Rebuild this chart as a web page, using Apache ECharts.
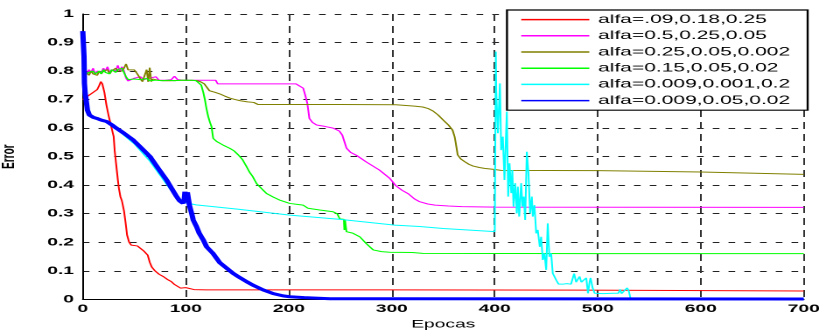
<!DOCTYPE html>
<html>
<head>
<meta charset="utf-8">
<script src="https://cdn.jsdelivr.net/npm/echarts@6/dist/echarts.min.js"></script>
<style>
  html, body { margin: 0; padding: 0; background: #fff; }
  #wrap { width: 819px; height: 331px; overflow: hidden; background: #fff; }
  /* the source figure is a MATLAB plot stretched sideways; draw narrow, then widen */
  #chart { width: 468px; height: 331px; transform: scaleX(1.75); transform-origin: 0 0; }
</style>
</head>
<body>
<div id="wrap"><div id="chart"></div></div>
<script>
// epochs 0..700, error 0..1
const LEGEND = [
  'alfa=.09,0.18,0.25',
  'alfa=0.5,0.25,0.05',
  'alfa=0.25,0.05,0.002',
  'alfa=0.15,0.05,0.02',
  'alfa=0.009,0.001,0.2',
  'alfa=0.009,0.05,0.02',
];
const COLORS = ['#ff0000', '#ff00ff', '#808000', '#00ff00', '#00ffff', '#0000ff'];

// noisy start shared by three runs
const EPOCH_A = [0, 2, 4, 6, 8, 10, 12, 14, 16, 18, 20, 22, 24, 26, 28, 30, 32, 34, 36, 38, 40, 42];
const EPOCH_B = [44, 47, 50, 53, 56, 59, 62, 65, 68, 71, 74, 77, 80, 83, 86, 89, 92, 95, 98];

const RED = [[0,0.70],[3,0.705],[6,0.715],[10,0.725],[14,0.735],[16,0.75],[17.5,0.763],[19,0.755],[21,0.725],
  [23,0.68],[25,0.645],[27,0.615],[28,0.6],[29,0.585],[30,0.57],[31,0.52],[32.5,0.47],[34,0.42],[35,0.39],
  [36.5,0.36],[38,0.345],[40,0.31],[41.5,0.27],[43,0.225],[45,0.2],[47,0.19],[50,0.188],[53,0.187],[56,0.18],
  [59,0.17],[61,0.163],[63,0.155],[65,0.13],[67,0.113],[70,0.1],[74,0.088],[78,0.08],[82,0.07],[86,0.062],
  [89,0.052],[92,0.045],[95,0.039],[98,0.038],[100,0.041],[101,0.039],[103,0.036],[108,0.034],[120,0.033],
  [300,0.033],[489,0.032],[492,0.029],[700,0.029]];

const MAG_A = [0.785,0.80,0.79,0.805,0.795,0.81,0.79,0.80,0.805,0.795,0.81,0.80,0.815,0.795,0.805,0.81,0.80,0.82,0.80,0.815,0.80,0.775];
const MAG_B = [0.765,0.77,0.775,0.768,0.78,0.77,0.768,0.775,0.77,0.78,0.768,0.772,0.768,0.775,0.77,0.782,0.77,0.768,0.768];
const MAG_TAIL = [[100,0.768],[129,0.768],[131,0.755],[207,0.755],[210,0.752],[214,0.74],[216,0.715],[218,0.687],
  [220,0.634],[223,0.62],[227,0.611],[235,0.606],[243,0.6],[249,0.59],[252,0.575],[256,0.53],[260,0.515],
  [266,0.504],[275,0.482],[288,0.453],[298,0.424],[304,0.398],[310,0.382],[316,0.37],[322,0.352],[327,0.342],
  [335,0.334],[342,0.33],[355,0.327],[368,0.325],[400,0.323],[700,0.322]];

const OLIVE_A = [0.79,0.78,0.795,0.785,0.80,0.79,0.795,0.785,0.80,0.79,0.80,0.795,0.805,0.79,0.80,0.795,0.81,0.80,0.805,0.80,0.81,0.825];
const OLIVE_TAIL = [[44,0.804],[47,0.798],[50,0.804],[53,0.79],[56,0.772],[58,0.763],[60,0.765],[62,0.805],
  [63.5,0.762],[65,0.812],[66.5,0.763],[68,0.772],[70,0.778],[73,0.768],[76,0.772],[79,0.766],[82,0.772],
  [85,0.766],[88,0.77],[91,0.767],[94,0.77],[97,0.768],[100,0.768],[110,0.767],[114,0.763],[118,0.755],
  [120,0.751],[123,0.731],[128,0.726],[133,0.72],[138,0.712],[143,0.705],[148,0.7],[153,0.696],[160,0.692],
  [166,0.69],[170,0.683],[250,0.683],[304,0.682],[322,0.677],[330,0.674],[335,0.669],[340,0.66],[345,0.646],
  [350,0.628],[355,0.611],[359,0.593],[361,0.57],[362,0.55],[364,0.506],[367,0.492],[371,0.482],[375,0.473],
  [379,0.467],[385,0.462],[390,0.459],[400,0.455],[406,0.452],[500,0.451],[600,0.446],[700,0.438]];

const GREEN_A = [0.78,0.79,0.785,0.795,0.79,0.80,0.79,0.795,0.80,0.79,0.805,0.795,0.80,0.79,0.805,0.81,0.795,0.805,0.80,0.81,0.795,0.78];
const GREEN_B = [0.77,0.768,0.772,0.765,0.77,0.768,0.774,0.766,0.77,0.768,0.772,0.766,0.77,0.768,0.77,0.766,0.77,0.768,0.768];
const GREEN_TAIL = [[100,0.768],[106,0.768],[110,0.766],[113,0.76],[115,0.751],[117,0.725],[118.6,0.699],
  [120,0.67],[121.8,0.64],[123.5,0.62],[125,0.605],[126.6,0.564],[130,0.553],[136,0.541],[142.8,0.529],
  [147,0.52],[151,0.506],[155,0.49],[159,0.465],[162,0.445],[165,0.43],[168.7,0.406],[173,0.39],[178.4,0.371],
  [185,0.358],[191,0.348],[201,0.336],[210,0.332],[214,0.33],[218.7,0.319],[230,0.313],[243,0.307],[247,0.3],
  [249.5,0.282],[252,0.279],[253.5,0.28],[254,0.243],[254.5,0.28],[256,0.237],[262,0.232],[269,0.219],
  [275,0.196],[282,0.173],[290,0.167],[298,0.165],[320,0.164],[330,0.161],[500,0.16],[700,0.16]];

const CYAN = [[0,0.9],[1,0.78],[2,0.72],[3,0.69],[5,0.66],[7,0.645],[10,0.64],[15,0.632],[20,0.625],[25,0.615],
  [30,0.605],[35,0.59],[40,0.575],[45,0.56],[50,0.545],[55,0.525],[60,0.505],[65,0.485],[70,0.46],[75,0.435],
  [80,0.41],[85,0.385],[90,0.365],[95,0.35],[98,0.34],[101,0.335],[110,0.331],[150,0.316],[201,0.295],
  [250,0.28],[302.8,0.26],[327,0.255],[350,0.248],[400,0.237],
  [401,0.868],[401.4,0.734],[403,0.582],[405,0.757],[406.2,0.523],[407.8,0.57],[409.4,0.418],[411.7,0.658],
  [413,0.36],[414.3,0.477],[416,0.372],[417,0.453],[418.2,0.325],[419.8,0.407],[421.4,0.301],[422.4,0.395],
  [423.7,0.29],[425.6,0.407],[426.9,0.325],[428.2,0.36],[429.5,0.278],[431.1,0.517],[432.7,0.442],[434.3,0.301],
  [436,0.36],[436.9,0.29],[438.5,0.33],[440.2,0.231],[441.7,0.243],[443.7,0.184],[445,0.219],[446.6,0.138],
  [448.2,0.161],[449.9,0.103],[451.4,0.266],[453,0.149],[454.7,0.161],[456.3,0.091],[458,0.079],[460,0.065],
  [462,0.053],[466,0.053],[470,0.055],[474,0.053],[477,0.09],[479,0.06],[480.5,0.053],[482.3,0.08],[484,0.06],
  [485.5,0.053],[488.8,0.075],[490.5,0.021],[492,0.06],[493,0.075],[495,0.04],[497,0.021],[505,0.02],
  [515,0.021],[520,0.021],[521.7,0.035],[523,0.02],[525,0.021],[528.5,0.04],[530,0.03],[532,0],[700,0]];

const BLUE = [[0,0.94],[0.6,0.938],[1.2,0.85],[1.6,0.757],[2.4,0.72],[3.2,0.7],[4.5,0.663],[6.4,0.646],[10,0.638],
  [13.6,0.634],[18,0.628],[23.3,0.623],[28,0.612],[33,0.599],[40,0.582],[49,0.558],[57,0.53],[65.3,0.5],
  [73,0.46],[81.4,0.418],[86,0.39],[91.1,0.36],[94,0.345],[97.5,0.336],[98.5,0.35],[99.2,0.377],[100,0.36],
  [100.8,0.348],[101.5,0.375],[102.4,0.37],[103.5,0.33],[105.7,0.301],[107.2,0.278],[110.5,0.254],[113,0.232],
  [117,0.208],[120.2,0.184],[126.6,0.16],[133.1,0.128],[142.8,0.1],[146,0.091],[152,0.077],[159,0.062],
  [165,0.05],[175,0.033],[185,0.02],[194.5,0.012],[201,0.009],[215,0.006],[240,0.002],[300,0.002],[700,0.001]];

const zip = (xs, ys) => xs.map((x, i) => [x, ys[i]]);

const seriesData = [
  RED,
  [...zip(EPOCH_A, MAG_A), ...zip(EPOCH_B, MAG_B), ...MAG_TAIL],
  [...zip(EPOCH_A, OLIVE_A), ...OLIVE_TAIL],
  [...zip(EPOCH_A, GREEN_A), ...zip(EPOCH_B, GREEN_B), ...GREEN_TAIL],
  CYAN,
  BLUE,
];

const FONT = "'Liberation Sans', Arial, sans-serif";

const chart = echarts.init(document.getElementById('chart'), null, { renderer: 'canvas', devicePixelRatio: 2 });
chart.setOption({
  animation: false,
  backgroundColor: '#fff',
  grid: { left: 47.3, right: 8.7, top: 14, bottom: 31.7, outerBoundsMode: 'none', containLabel: false },
  legend: {
    data: LEGEND,
    orient: 'vertical',
    left: 289.7, top: 10,
    padding: [3, 10, 3, 7.4],
    itemWidth: 38.9, itemHeight: 14, itemGap: 3,
    backgroundColor: '#fff', borderColor: '#000', borderWidth: 1.2,
    // line-only swatch: hide the marker, keep the stroke
    itemStyle: { opacity: 0 },
    lineStyle: { width: 1.5 },
    textStyle: { fontFamily: FONT, fontSize: 12, color: '#000' },
  },
  xAxis: {
    type: 'value', min: 0, max: 700, interval: 100,
    name: 'Epocas', nameLocation: 'middle', nameGap: 14,
    nameTextStyle: { fontFamily: FONT, fontSize: 11, color: '#000' },
    axisLine: { lineStyle: { color: '#000', width: 1 } },
    axisTick: { show: false },
    axisLabel: { fontFamily: FONT, fontSize: 11, fontWeight: 'bold', color: '#000', margin: 4 },
    splitLine: { lineStyle: { color: '#333', type: [7, 5], width: 1 } },
  },
  yAxis: {
    type: 'value', min: 0, max: 1, interval: 0.1,
    name: 'Error', nameLocation: 'middle', nameGap: 37, nameRotate: 90,
    nameTextStyle: { fontFamily: FONT, fontSize: 10, fontWeight: 'bold', color: '#000' },
    axisLine: { show: true, lineStyle: { color: '#000', width: 1 } },
    axisTick: { show: false },
    axisLabel: { fontFamily: FONT, fontSize: 11, fontWeight: 'bold', color: '#000', margin: 5 },
    splitLine: { lineStyle: { color: '#222', type: [3.8, 5.2], width: 1 } },
  },
  series: seriesData.map((data, i) => ({
    name: LEGEND[i],
    type: 'line',
    data,
    showSymbol: false,
    color: COLORS[i],
    lineStyle: { color: COLORS[i], width: i === 5 ? 3 : 1 },
  })),
});
</script>
</body>
</html>
